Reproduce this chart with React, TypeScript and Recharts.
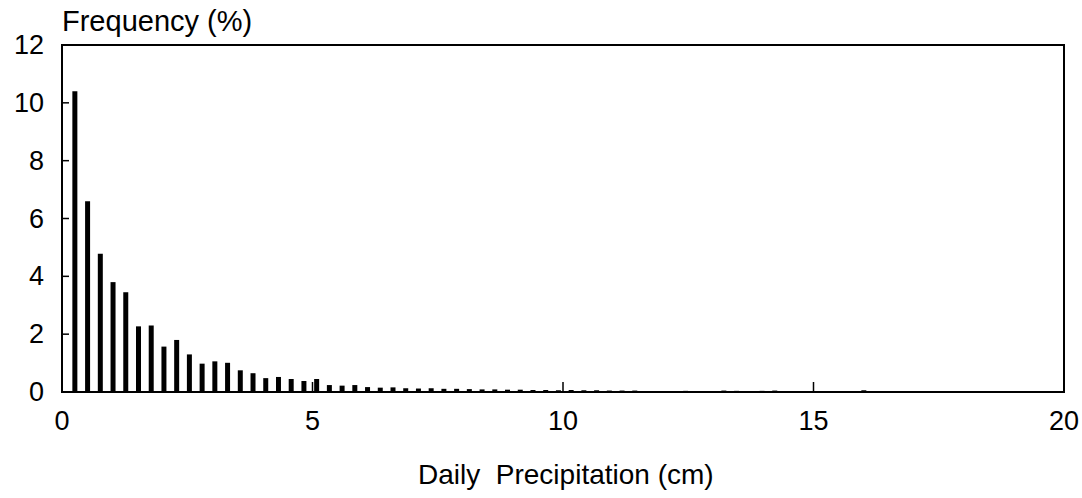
import React from "react";
import { BarChart, Bar, XAxis, YAxis, ReferenceArea } from "recharts";

// bin position (cm) - bins are 0.1 inch wide, empty bins left out
const precipCm = [
  0.254, 0.508, 0.762, 1.016, 1.27, 1.524, 1.778, 2.032, 2.286, 2.54,
  2.794, 3.048, 3.302, 3.556, 3.81, 4.064, 4.318, 4.572, 4.826, 5.08,
  5.334, 5.588, 5.842, 6.096, 6.35, 6.604, 6.858, 7.112, 7.366, 7.62,
  7.874, 8.128, 8.382, 8.636, 8.89, 9.144, 9.398, 9.652, 9.906, 10.16,
  10.414, 10.668, 10.922, 11.176, 11.43,
  12.446, 13.208, 13.462, 13.97, 14.224, 16.002,
];

// frequency (%)
const frequency = [
  10.4, 6.6, 4.78, 3.8, 3.45, 2.27, 2.3, 1.57, 1.8, 1.3,
  0.98, 1.06, 1.01, 0.75, 0.65, 0.48, 0.52, 0.45, 0.38, 0.45,
  0.24, 0.22, 0.24, 0.17, 0.15, 0.16, 0.13, 0.12, 0.13, 0.11,
  0.11, 0.1, 0.09, 0.09, 0.08, 0.08, 0.07, 0.07, 0.06, 0.07,
  0.06, 0.06, 0.05, 0.05, 0.05,
  0.04, 0.05, 0.04, 0.04, 0.05, 0.06,
];

const xTicks = [0, 5, 10, 15, 20];
const yTicks = [0, 2, 4, 6, 8, 10, 12];

const data = precipCm.map((x, i) => ({ x, freq: frequency[i] }));

const FONT = '"Liberation Sans", Arial, Helvetica, sans-serif';

// ticks point inward, labels sit outside
const YTick = (props: any) => {
  const { x, y, payload } = props;
  return (
    <g>
      <line x1={x} x2={x + 7} y1={y} y2={y} stroke="#000" strokeWidth={1.5} />
      <text
        x={x - 18}
        y={y}
        textAnchor="end"
        dominantBaseline="central"
        fontFamily={FONT}
        fontSize={27}
        fill="#000"
      >
        {payload.value}
      </text>
    </g>
  );
};

const XTick = (props: any) => {
  const { x, y, payload } = props;
  return (
    <g>
      <line x1={x} x2={x} y1={y} y2={y - 10} stroke="#000" strokeWidth={1.5} />
      <text
        x={x}
        y={y + 29}
        textAnchor="middle"
        dominantBaseline="central"
        fontFamily={FONT}
        fontSize={27}
        fill="#000"
      >
        {payload.value}
      </text>
    </g>
  );
};

export default function App() {
  return (
    <div
      style={{
        position: "absolute",
        left: 0,
        top: 0,
        width: 1082,
        height: 498,
        background: "#fff",
        fontFamily: FONT,
      }}
    >
      <BarChart
        width={1082}
        height={498}
        data={data}
        margin={{ top: 45, right: 18, bottom: 0, left: 0 }}
      >
        <XAxis
          dataKey="x"
          type="number"
          domain={[0, 20]}
          ticks={xTicks}
          height={106}
          tickSize={0}
          tickMargin={0}
          axisLine={false}
          tickLine={false}
          tick={<XTick />}
          allowDataOverflow
        />
        <YAxis
          type="number"
          domain={[0, 12]}
          ticks={yTicks}
          width={62}
          tickSize={0}
          tickMargin={0}
          axisLine={false}
          tickLine={false}
          tick={<YTick />}
          allowDataOverflow
        />
        <Bar dataKey="freq" fill="#000" barSize={5} isAnimationActive={false} />
        <ReferenceArea
          x1={0}
          x2={20}
          y1={0}
          y2={12}
          fill="none"
          fillOpacity={0}
          stroke="#000"
          strokeWidth={2}
        />
      </BarChart>
      <div
        style={{
          position: "absolute",
          left: 62,
          top: 5,
          fontSize: 29,
          lineHeight: "32px",
          color: "#000",
        }}
      >
        Frequency (%)
      </div>
      <div
        style={{
          position: "absolute",
          left: 418,
          top: 459,
          fontSize: 28,
          lineHeight: "32px",
          color: "#000",
          whiteSpace: "pre",
        }}
      >
        {"Daily  Precipitation (cm)"}
      </div>
    </div>
  );
}
